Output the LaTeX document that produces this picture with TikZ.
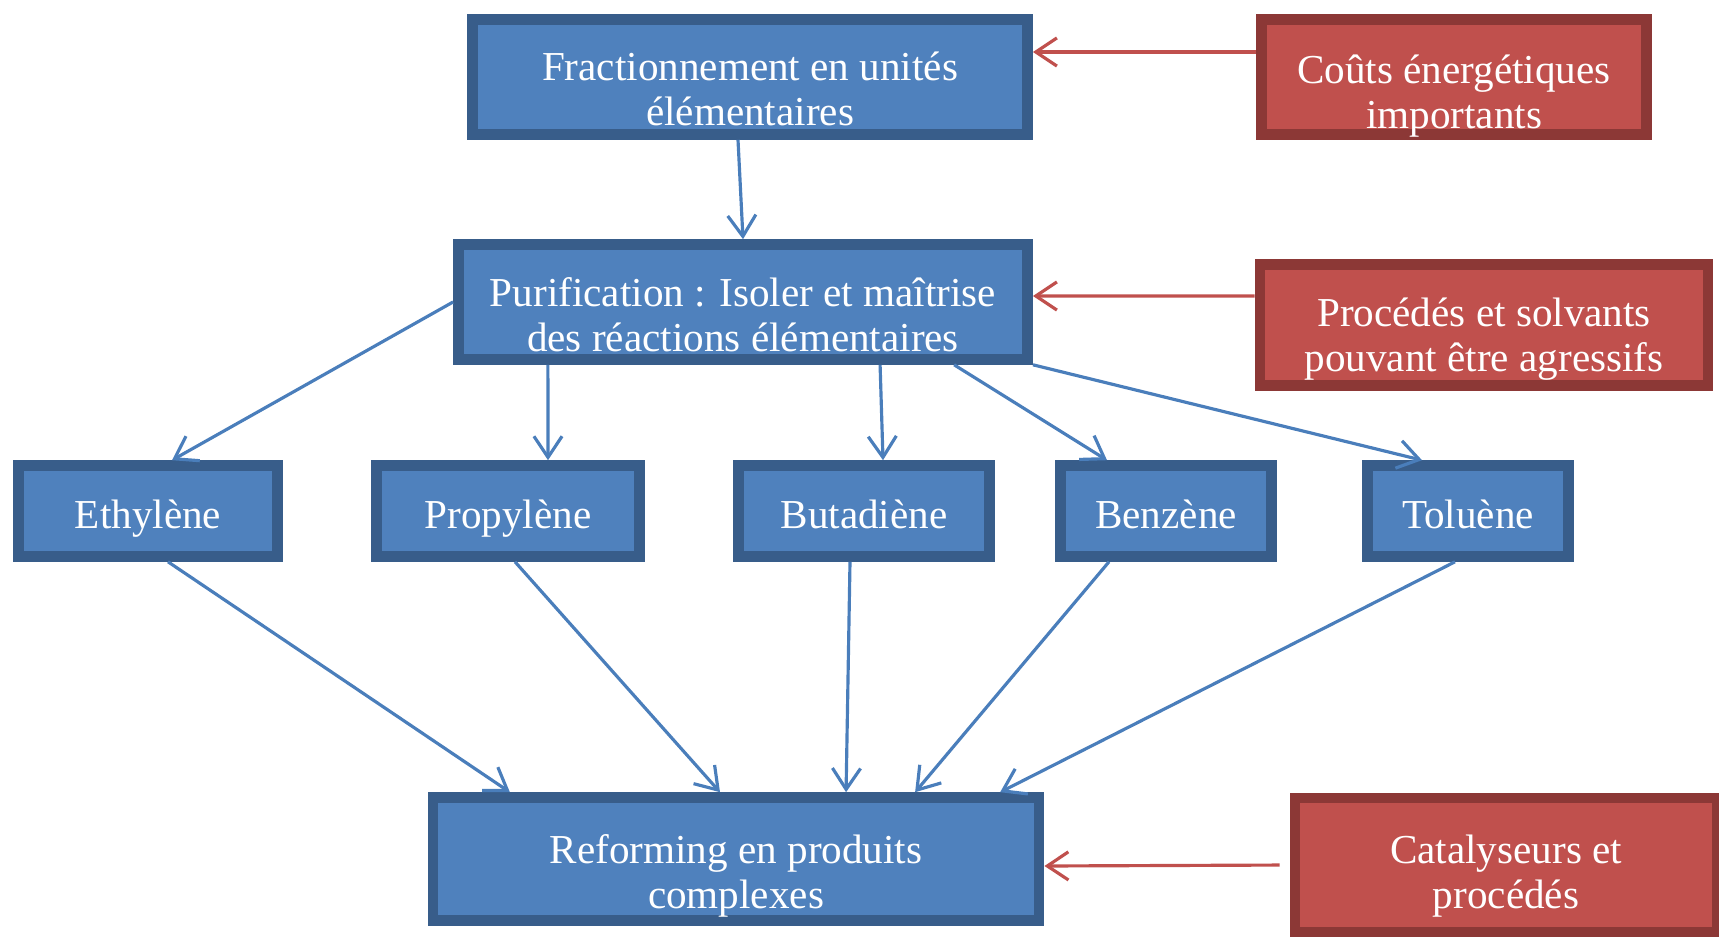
\documentclass[tikz,border=0pt]{standalone}
\usepackage{fontspec}
\setmainfont{Liberation Serif}
\usepackage{tikz}
\usetikzlibrary{arrows.meta, positioning}
\definecolor{boxfill}{RGB}{79, 129, 189}
\definecolor{boxline}{RGB}{56, 93, 138}
\definecolor{riskfill}{RGB}{192, 80, 77}
\definecolor{riskline}{RGB}{140, 56, 54}
\definecolor{linkblue}{RGB}{74, 126, 187}

\tikzset{
  stepbox/.style={draw=boxline, fill=boxfill, line width=3pt, text=white, align=center, inner sep=0pt, text depth=0pt, font=\fontsize{11.7}{12.8}\selectfont},
  riskbox/.style={stepbox, draw=riskline, fill=riskfill},
  link/.style={-{Straight Barb[length=6pt,width=8pt]}, draw=linkblue, line width=0.9pt},
  riskarrow/.style={link, draw=riskfill}
}

\begin{document}
\begin{tikzpicture}[x=0.01cm, y=-0.01cm]
\useasboundingbox (0,0) rectangle (1719,940);

% main chain
\node[stepbox, text height=27.7pt, minimum width=5.55cm, minimum height=1.15cm] (frac) at (750,77) {Fractionnement en unités\\élémentaires};
\node[stepbox, text height=28.3pt, minimum width=5.69cm, minimum height=1.15cm] (purif) at (743,302) {Purification : Isoler et maîtrise\\des réactions élémentaires};
\node[stepbox, text height=28.3pt, minimum width=6.06cm, minimum height=1.23cm] (reform) at (736,859) {Reforming en produits\\complexes};

% elementary units
\node[stepbox, text height=10pt, minimum width=2.59cm, minimum height=0.91cm] (eth) at (148,511) {Ethylène};
\node[stepbox, text height=10pt, minimum width=2.63cm, minimum height=0.91cm] (prop) at (508,511) {Propylène};
\node[stepbox, text height=10pt, minimum width=2.51cm, minimum height=0.91cm] (but) at (864,511) {Butadiène};
\node[stepbox, text height=10pt, minimum width=2.11cm, minimum height=0.91cm] (benz) at (1166,511) {Benzène};
\node[stepbox, text height=10pt, minimum width=2.01cm, minimum height=0.91cm] (tol) at (1468,511) {Toluène};

% drawbacks
\node[riskbox, text height=29.2pt, minimum width=3.85cm, minimum height=1.15cm] (cost1) at (1454,77) {Coûts énergétiques\\importants};
\node[riskbox, text height=26.5pt, minimum width=4.48cm, minimum height=1.21cm] (cost2) at (1484,325) {Procédés et solvants\\pouvant être agressifs};
\node[riskbox, text height=24.9pt, minimum width=4.22cm, minimum height=1.34cm] (cost3) at (1506,865) {Catalyseurs et\\procédés};

\draw[link] ([xshift=-0.12cm]frac.south) -- (purif.north);

\draw[link] (purif.west) -- ([xshift=0.24cm]eth.north);
\draw[link] ([xshift=-1.95cm]purif.south) -- ([xshift=0.40cm]prop.north);
\draw[link] ([xshift=1.37cm]purif.south) -- ([xshift=0.19cm]but.north);
\draw[link] ([xshift=2.11cm]purif.south) -- ([xshift=-0.59cm]benz.north);
\draw[link] (purif.south east) -- ([xshift=-0.46cm]tol.north);

\draw[link] ([xshift=0.20cm]eth.south) -- ([xshift=-2.26cm]reform.north);
\draw[link] ([xshift=0.07cm]prop.south) -- ([xshift=-0.16cm]reform.north);
\draw[link] ([xshift=-0.14cm]but.south) -- ([xshift=1.10cm]reform.north);
\draw[link] ([xshift=-0.57cm]benz.south) -- ([xshift=1.79cm]reform.north);
\draw[link] ([xshift=-0.13cm]tol.south) -- ([xshift=2.64cm]reform.north);

\draw[riskarrow] ([yshift=0.25cm]cost1.west) -- ([yshift=0.25cm]frac.east);
\draw[riskarrow] ([yshift=0.29cm]cost2.west) -- ([yshift=0.06cm]purif.east);
\draw[riskarrow, shorten <=0.1cm] (cost3.west) -- ([yshift=-0.07cm]reform.east);
\end{tikzpicture}
\end{document}
